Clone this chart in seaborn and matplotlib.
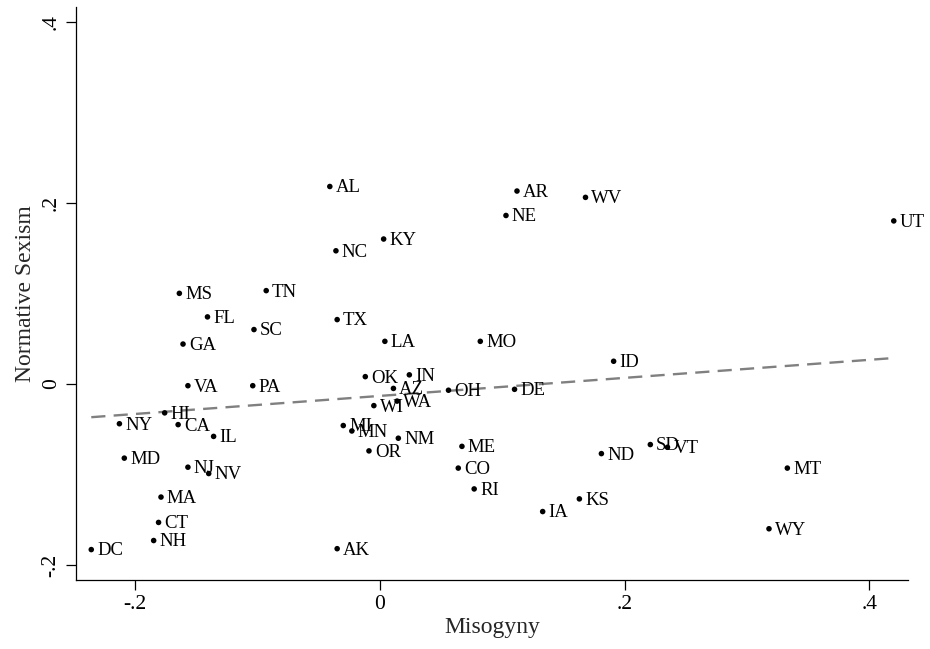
"""
State-level misogyny vs normative sexism scatter with linear fit.
"""

import matplotlib.pyplot as plt
import numpy as np
import pandas as pd
import seaborn as sns

sns.set_style("ticks")
plt.rcParams["font.family"] = ["Liberation Serif", "DejaVu Serif"]

# Data
states = [
    "AL", "NC", "MS", "TN", "FL", "TX", "KY", "SC", "GA", "LA",
    "OK", "VA", "PA", "HI", "WI", "NY", "CA", "IL", "MI", "MN",
    "OR", "MD", "NJ", "NV", "MA", "CT", "NH", "DC", "AK", "AR",
    "WV", "NE", "MO", "ID", "IN", "AZ", "OH", "DE", "WA", "NM",
    "ME", "CO", "RI", "IA", "KS", "ND", "SD", "VT", "MT", "WY", "UT",
]
misogyny = [
    -0.041, -0.036, -0.164, -0.093, -0.141, -0.035, 0.003, -0.103, -0.161, 0.004,
    -0.012, -0.157, -0.104, -0.176, -0.005, -0.213, -0.165, -0.136, -0.030, -0.023,
    -0.009, -0.209, -0.157, -0.140, -0.179, -0.181, -0.185, -0.236, -0.035, 0.112,
    0.168, 0.103, 0.082, 0.191, 0.024, 0.011, 0.056, 0.110, 0.014, 0.015,
    0.067, 0.064, 0.077, 0.133, 0.163, 0.181, 0.221, 0.235, 0.333, 0.318, 0.420,
]
sexism = [
    0.218, 0.147, 0.100, 0.103, 0.074, 0.071, 0.160, 0.060, 0.044, 0.047,
    0.008, -0.002, -0.002, -0.032, -0.024, -0.044, -0.045, -0.058, -0.046, -0.052,
    -0.074, -0.082, -0.092, -0.099, -0.125, -0.153, -0.173, -0.183, -0.182, 0.213,
    0.206, 0.186, 0.047, 0.025, 0.010, -0.005, -0.007, -0.006, -0.019, -0.060,
    -0.069, -0.093, -0.116, -0.141, -0.127, -0.077, -0.067, -0.070, -0.093, -0.160, 0.180,
]

df = pd.DataFrame({"state": states, "misogyny": misogyny, "sexism": sexism})

fig, ax = plt.subplots(figsize=(9.3, 6.49), dpi=100)
fig.subplots_adjust(left=0.0817, right=0.9763, bottom=0.1063, top=0.9897)

sns.scatterplot(
    data=df, x="misogyny", y="sexism", ax=ax,
    color="black", s=16, edgecolor="none", legend=False, zorder=3,
)
# linear fit across the observed range
sns.regplot(
    data=df, x="misogyny", y="sexism", ax=ax, scatter=False, ci=None,
    truncate=True,
    line_kws={"color": "#808080", "lw": 1.7, "linestyle": (0, (6, 3.5))},
)

for _, row in df.iterrows():
    ax.annotate(
        row["state"], (row["misogyny"], row["sexism"]),
        xytext=(4.2, -1), textcoords="offset points",
        ha="left", va="center", fontsize=13.5, color="black",
    )

ax.set_xlim(-0.2485, 0.4316)
ax.set_ylim(-0.2166, 0.4166)
ax.set_xticks([-0.2, 0, 0.2, 0.4])
ax.set_xticklabels(["-.2", "0", ".2", ".4"])
ax.set_yticks([-0.2, 0, 0.2, 0.4])
ax.set_yticklabels(["-.2", "0", ".2", ".4"], rotation=90, va="center")
ax.tick_params(axis="both", length=7, width=0.9, labelsize=15.5, colors="black", pad=4)

ax.set_xlabel("Misogyny", fontsize=17, labelpad=2)
ax.set_ylabel("Normative Sexism", fontsize=17, labelpad=4)

sns.despine(ax=ax)
for side in ["left", "bottom"]:
    ax.spines[side].set_linewidth(0.9)
    ax.spines[side].set_color("black")

plt.savefig("out.png", dpi=100)
plt.close()
